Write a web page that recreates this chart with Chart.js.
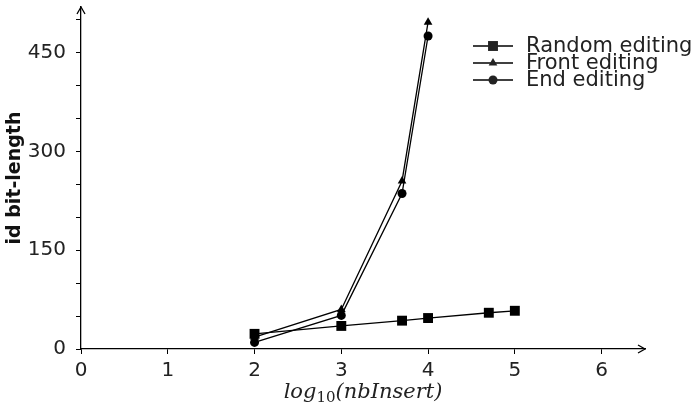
<!DOCTYPE html>
<html>
<head>
<meta charset="utf-8">
<script src="https://cdn.jsdelivr.net/npm/chart.js@4/dist/chart.umd.min.js"></script>
<style>
    html, body { margin: 0; padding: 0; background: #fff; }
    #wrap { width: 696px; height: 410px; }
</style>
</head>
<body>
<div id="wrap"><canvas id="chart" width="696" height="410"></canvas></div>
<script>
// ============================================================
// DATA
// ============================================================
const seriesNames = ["Random editing", "Front editing", "End editing"];

const randomX = [2, 3, 3.7, 4, 4.7, 5];
const randomY = [23, 35, 43, 47, 55, 58];

const frontX = [2, 3, 3.7, 4];
const frontY = [18, 60, 255, 496];

const endX = [2, 3, 3.7, 4];
const endY = [10, 51, 236, 475];

const xTicks = [0, 1, 2, 3, 4, 5, 6];
const yLabelTicks = [0, 150, 300, 450];

// x title pieces: "log" + subscript "10" + "(nbInsert)"
const xTitle = ["log", "10", "(nbInsert)"];
const yTitle = "id bit-length";

const INK = "#000";
const TEXT = "#222";
const FONT = "'DejaVu Sans', sans-serif";
const SERIF = "'DejaVu Serif', serif";

function toPoints(xs, ys) {
    return xs.map((x, i) => ({ x: x, y: ys[i] }));
}

function makeSet(label, xs, ys, style, radius) {
    return {
        label: label,
        data: toPoints(xs, ys),
        borderColor: INK,
        backgroundColor: INK,
        borderWidth: 1.3,
        pointStyle: style,
        pointRadius: radius,
        pointHoverRadius: radius,
        pointBorderWidth: 0,
        tension: 0
    };
}

// ============================================================
// PLUGIN: axis arrows, x title with subscript, line/marker legend
// ============================================================
const extras = {
    id: "extras",
    afterDraw(chart) {
        const c = chart.ctx;
        const a = chart.chartArea;
        c.save();
        c.strokeStyle = INK;
        c.lineWidth = 1.3;

        // arrow heads on the axes
        c.beginPath();
        c.moveTo(a.left - 4, a.top + 7);
        c.lineTo(a.left, a.top);
        c.lineTo(a.left + 4, a.top + 7);
        c.moveTo(a.right - 7, a.bottom - 4);
        c.lineTo(a.right, a.bottom);
        c.lineTo(a.right - 7, a.bottom + 4);
        c.stroke();

        // x axis title, centred under the plot
        const big = "italic 21px " + SERIF;
        const small = "15px " + SERIF;
        c.fillStyle = TEXT;
        c.textBaseline = "alphabetic";
        c.textAlign = "left";
        c.font = big;
        const w0 = c.measureText(xTitle[0]).width;
        const w2 = c.measureText(xTitle[2]).width;
        c.font = small;
        const w1 = c.measureText(xTitle[1]).width;
        let tx = (a.left + a.right) / 2 - (w0 + w1 + w2) / 2;
        const base = 398;
        c.font = big;
        c.fillText(xTitle[0], tx, base);
        tx += w0;
        c.font = small;
        c.fillText(xTitle[1], tx, base + 4);
        tx += w1;
        c.font = big;
        c.fillText(xTitle[2], tx, base);

        // legend: short line with marker, then label
        const lx = 473, lw = 40, ty = 46, row = 17;
        c.font = "21px " + FONT;
        c.textBaseline = "middle";
        chart.data.datasets.forEach((ds, i) => {
            const y = ty + i * row;
            c.beginPath();
            c.moveTo(lx, y);
            c.lineTo(lx + lw, y);
            c.stroke();
            Chart.helpers.drawPoint(c, {
                pointStyle: ds.pointStyle,
                radius: ds.pointRadius,
                rotation: 0,
                borderWidth: 0
            }, lx + lw / 2, y);
            c.fillText(ds.label, lx + lw + 13, y + 1);
        });
        c.restore();
    }
};

// ============================================================
// CHART
// ============================================================
new Chart(document.getElementById("chart"), {
    type: "line",
    data: {
        datasets: [
            makeSet(seriesNames[0], randomX, randomY, "rect", 7),
            makeSet(seriesNames[1], frontX, frontY, "triangle", 5),
            makeSet(seriesNames[2], endX, endY, "circle", 4.5)
        ]
    },
    options: {
        responsive: false,
        animation: false,
        layout: { padding: { top: 3, right: 51, left: 0, bottom: 0 } },
        plugins: { legend: { display: false }, tooltip: { enabled: false } },
        scales: {
            x: {
                type: "linear",
                min: 0,
                max: 6.5,
                afterBuildTicks: s => { s.ticks = xTicks.map(v => ({ value: v })); },
                afterFit: s => { s.height = 61; s.paddingLeft = 0; s.paddingRight = 0; },
                border: { color: INK, width: 1.3 },
                grid: { drawOnChartArea: false, color: INK, tickLength: 5, lineWidth: 1 },
                ticks: { color: TEXT, font: { family: FONT, size: 20 }, padding: 5 }
            },
            y: {
                type: "linear",
                min: 0,
                max: 519,
                afterBuildTicks: s => {
                    const t = [];
                    for (let v = 0; v <= 500; v += 50) t.push({ value: v });
                    s.ticks = t;
                },
                afterFit: s => { s.width = 81; s.paddingTop = 0; s.paddingBottom = 0; },
                border: { color: INK, width: 1.3 },
                grid: { drawOnChartArea: false, color: INK, tickLength: 5, lineWidth: 1 },
                ticks: {
                    color: TEXT,
                    font: { family: FONT, size: 20 },
                    padding: 10,
                    callback: v => yLabelTicks.includes(v) ? String(v) : ""
                },
                title: {
                    display: true,
                    text: yTitle,
                    color: "#111",
                    font: { family: FONT, size: 19, weight: "bold" },
                    padding: { bottom: 0, top: 4 }
                }
            }
        }
    },
    plugins: [extras]
});
</script>
</body>
</html>
